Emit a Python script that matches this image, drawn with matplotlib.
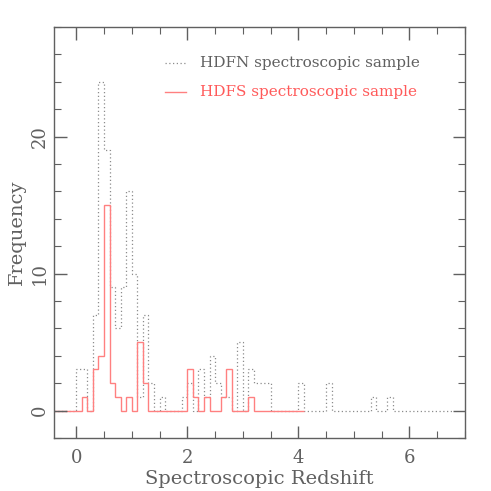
import numpy as np
import matplotlib
matplotlib.use("Agg")
import matplotlib.pyplot as plt
from matplotlib.ticker import MultipleLocator

# histogram bins of 0.1 in redshift, starting at z = 0
BIN_WIDTH = 0.1
X_START = -0.4

# HDFN counts per bin, z = 0.0 ... 6.8
hdfn_counts = [
    3, 3, 0, 7, 24, 19, 9, 6, 9, 16,
    10, 1, 7, 2, 0, 1, 0, 0, 0, 1,
    2, 0, 3, 1, 4, 2, 1, 1, 0, 5,
    0, 3, 2, 2, 2, 0, 0, 0, 0, 0,
    2, 0, 0, 0, 0, 2, 0, 0, 0, 0,
    0, 0, 0, 1, 0, 0, 1, 0, 0, 0,
    0, 0, 0, 0, 0, 0, 0, 0,
]

# HDFS counts per bin, z = 0.0 ... 4.1
hdfs_counts = [
    0, 1, 0, 3, 4, 15, 2, 1, 0, 1,
    0, 5, 2, 0, 0, 0, 0, 0, 0, 0,
    3, 1, 0, 1, 0, 0, 1, 3, 0, 0,
    0, 1, 0, 0, 0, 0, 0, 0, 0, 0,
    0,
]


def outline(counts):
    n = len(counts)
    edges = np.concatenate([[X_START], np.round(np.arange(n + 1) * BIN_WIDTH, 2)])
    vals = np.concatenate([[0], counts])
    return vals, edges


GREY = "#8c8c8c"
RED = "#ff8080"
TXT = "#606060"

plt.rcParams["font.family"] = ["DejaVu Serif"]

fig = plt.figure(figsize=(4.91, 4.91), dpi=100)
ax = fig.add_axes([0.110, 0.108, 0.837, 0.837])

v, e = outline(hdfn_counts)
ax.stairs(v, e, baseline=None, color=GREY, lw=0.9, ls=(0, (1, 2)))
v, e = outline(hdfs_counts)
ax.stairs(v, e, baseline=None, color=RED, lw=1.0)

ax.set_xlim(-0.4, 7.0)
ax.set_ylim(-2, 28)

ax.xaxis.set_major_locator(MultipleLocator(2))
ax.xaxis.set_minor_locator(MultipleLocator(0.5))
ax.yaxis.set_major_locator(MultipleLocator(10))
ax.yaxis.set_minor_locator(MultipleLocator(2))
ax.tick_params(which="both", direction="in", top=True, right=True,
               color=TXT, labelcolor=TXT, labelsize=13)
ax.tick_params(which="major", length=9, width=1.0)
ax.tick_params(which="minor", length=5, width=0.8)
ax.tick_params(axis="x", pad=8)
for lab in ax.get_yticklabels():
    lab.set_rotation(90)
    lab.set_va("center")
for sp in ax.spines.values():
    sp.set_color(TXT)
    sp.set_linewidth(1.0)

ax.set_xlabel("Spectroscopic Redshift", fontsize=14, color=TXT, labelpad=2)
ax.set_ylabel("Frequency", fontsize=14, color=TXT, labelpad=4)

# legend drawn as in the original: short line sample + coloured text
ax.plot([0.27, 0.32], [0.912, 0.912], transform=ax.transAxes, color=GREY,
        lw=0.9, ls=(0, (1, 2)))
ax.text(0.355, 0.912, "HDFN spectroscopic sample", transform=ax.transAxes,
        color=TXT, fontsize=11, va="center")
ax.plot([0.27, 0.32], [0.842, 0.842], transform=ax.transAxes, color=RED, lw=1.0)
ax.text(0.355, 0.842, "HDFS spectroscopic sample", transform=ax.transAxes,
        color="#ff5a5a", fontsize=11, va="center")

fig.savefig("out.png", dpi=100)
